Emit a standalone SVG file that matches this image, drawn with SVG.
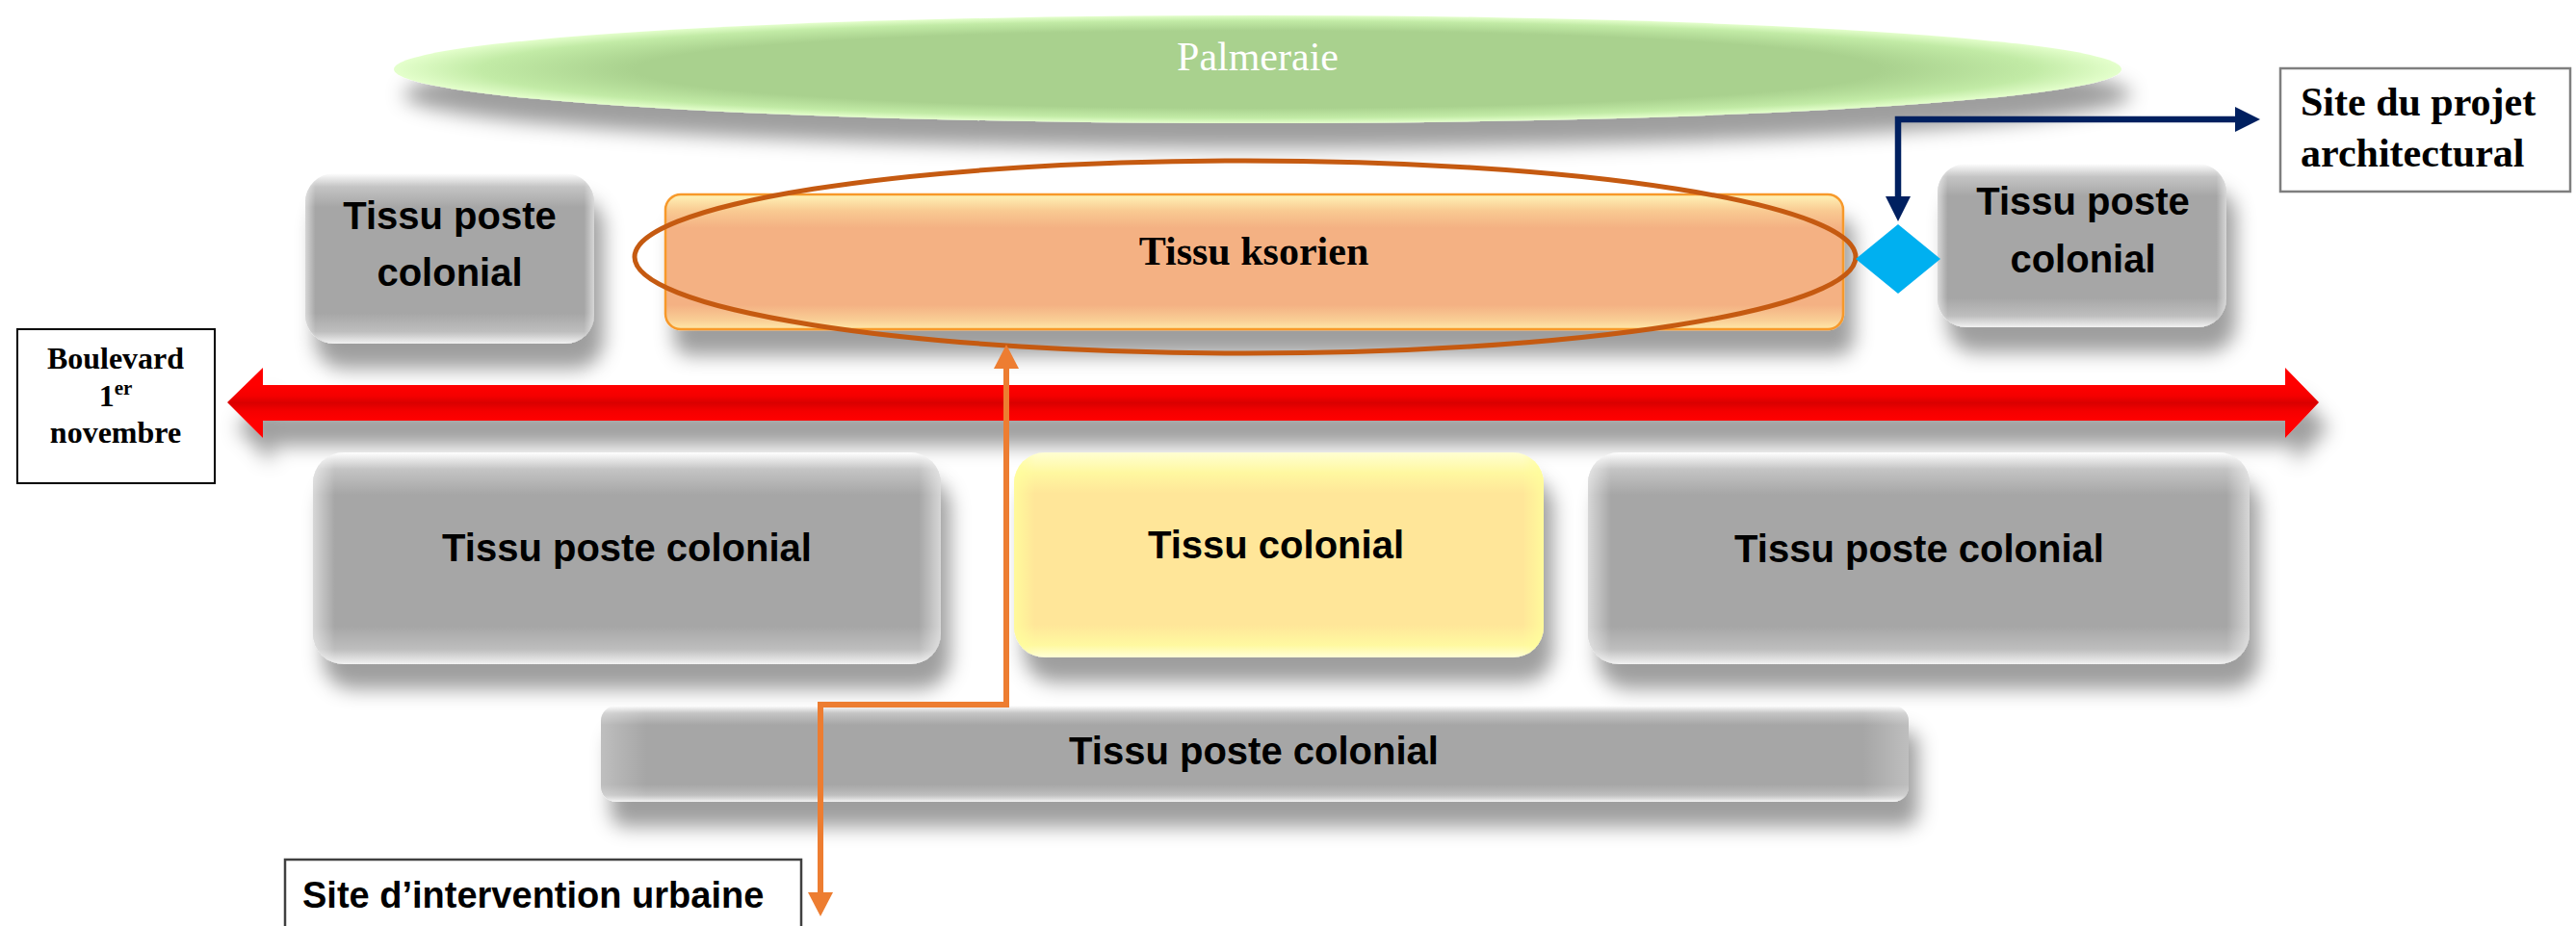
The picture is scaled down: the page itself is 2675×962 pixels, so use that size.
<svg xmlns="http://www.w3.org/2000/svg" width="2675" height="962" viewBox="0 0 2675 962">
<style>
.sans{font-family:"Liberation Sans",Arial,sans-serif;font-weight:bold;fill:#000}
.serif{font-family:"Liberation Serif","Times New Roman",serif}
.node-txt{font-size:40px;text-anchor:middle}
.box{fill:#fff}
</style>
<defs>
<filter id="shadow" x="-10%" y="-30%" width="125%" height="210%">
<feDropShadow dx="10" dy="26" stdDeviation="10" flood-color="#000" flood-opacity="0.38"/>
</filter>
<linearGradient id="grayV" x1="0" y1="0" x2="0" y2="1">
<stop offset="0" stop-color="#FFFFFF"/>
<stop offset="0.08" stop-color="#C4C4C4"/>
<stop offset="0.2" stop-color="#A6A6A6"/>
<stop offset="0.82" stop-color="#A6A6A6"/>
<stop offset="0.93" stop-color="#BEBEBE"/>
<stop offset="1" stop-color="#F2F2F2"/>
</linearGradient>
<linearGradient id="edgeH" x1="0" y1="0" x2="1" y2="0">
<stop offset="0" stop-color="#fff" stop-opacity="0.55"/>
<stop offset="0.035" stop-color="#fff" stop-opacity="0"/>
<stop offset="0.965" stop-color="#fff" stop-opacity="0"/>
<stop offset="1" stop-color="#fff" stop-opacity="0.55"/>
</linearGradient>
<linearGradient id="orangeV" x1="0" y1="0" x2="0" y2="1">
<stop offset="0" stop-color="#FFF4B8"/>
<stop offset="0.12" stop-color="#F9CA92"/>
<stop offset="0.25" stop-color="#F4B183"/>
<stop offset="0.82" stop-color="#F4B183"/>
<stop offset="0.93" stop-color="#F9CD95"/>
<stop offset="1" stop-color="#FFE9A8"/>
</linearGradient>
<linearGradient id="yellowV" x1="0" y1="0" x2="0" y2="1">
<stop offset="0" stop-color="#FFFFD2"/>
<stop offset="0.1" stop-color="#FFF8A0"/>
<stop offset="0.2" stop-color="#FFE699"/>
<stop offset="0.84" stop-color="#FFE699"/>
<stop offset="0.94" stop-color="#FFF9A0"/>
<stop offset="1" stop-color="#FFFFD6"/>
</linearGradient>
<linearGradient id="yellowH" x1="0" y1="0" x2="1" y2="0">
<stop offset="0" stop-color="#FFFF9C" stop-opacity="0.8"/>
<stop offset="0.04" stop-color="#FFFF9C" stop-opacity="0"/>
<stop offset="0.96" stop-color="#FFFF9C" stop-opacity="0"/>
<stop offset="1" stop-color="#FFFF9C" stop-opacity="0.8"/>
</linearGradient>
<radialGradient id="greenR" cx="0.5" cy="0.5" r="0.5">
<stop offset="0" stop-color="#A9D18E"/>
<stop offset="0.72" stop-color="#A9D18E"/>
<stop offset="0.9" stop-color="#C2EBA6"/>
<stop offset="1" stop-color="#E4FFCC"/>
</radialGradient>
<linearGradient id="redV" gradientUnits="userSpaceOnUse" x1="0" y1="382" x2="0" y2="455">
<stop offset="0.25" stop-color="#FF0000"/>
<stop offset="0.4" stop-color="#F50000"/>
<stop offset="0.5" stop-color="#D90000"/>
<stop offset="0.62" stop-color="#F50000"/>
<stop offset="0.75" stop-color="#FF0000"/>
</linearGradient>
<marker id="navyHead" markerUnits="userSpaceOnUse" markerWidth="26" markerHeight="26" viewBox="0 0 24 24" refX="0" refY="12" orient="auto-start-reverse">
<path d="M0,0 L24,12 L0,24 z" fill="#002060"/>
</marker>
<marker id="orangeHead" markerUnits="userSpaceOnUse" markerWidth="26" markerHeight="26" viewBox="0 0 24 24" refX="0" refY="12" orient="auto-start-reverse">
<path d="M0,0 L23,12 L0,24 z" fill="#ED7D31"/>
</marker>
</defs>

<rect width="2675" height="962" fill="#fff"/>

<g id="palmeraie">
<ellipse cx="1306" cy="72" rx="897" ry="56" fill="url(#greenR)" filter="url(#shadow)"/>
<text class="serif" x="1306" y="73" font-size="42" text-anchor="middle" fill="#fff">Palmeraie</text>
</g>

<g id="tissu-poste-colonial-nw">
<rect x="317" y="180" width="300" height="177" rx="30" fill="url(#grayV)" filter="url(#shadow)"/>
<rect x="317" y="180" width="300" height="177" rx="30" fill="url(#edgeH)"/>
<text class="sans node-txt" x="467" y="238">Tissu poste</text>
<text class="sans node-txt" x="467" y="297">colonial</text>
</g>

<g id="tissu-ksorien">
<rect x="691" y="202" width="1223" height="140" rx="16" fill="url(#orangeV)" stroke="#F7992C" stroke-width="2.5" filter="url(#shadow)"/>
<text class="serif" x="1302" y="275" font-size="42" font-weight="bold" text-anchor="middle">Tissu ksorien</text>
</g>

<g id="tissu-poste-colonial-ne">
<rect x="2012" y="170" width="300" height="170" rx="30" fill="url(#grayV)" filter="url(#shadow)"/>
<rect x="2012" y="170" width="300" height="170" rx="30" fill="url(#edgeH)"/>
<text class="sans node-txt" x="2163" y="223">Tissu poste</text>
<text class="sans node-txt" x="2163" y="283">colonial</text>
</g>

<g id="site-projet">
<rect class="box" x="2368" y="71" width="301" height="128" stroke="#7F7F7F" stroke-width="2.5"/>
<text class="serif" x="2389" y="120" font-size="42" font-weight="bold">Site du projet</text>
<text class="serif" x="2389" y="173" font-size="42" font-weight="bold">architectural</text>
</g>

<g id="boulevard-arrow">
<polygon points="236,418 273,382 273,400 2373,400 2373,382 2408,418 2373,455 2373,437 273,437 273,455" fill="url(#redV)" filter="url(#shadow)"/>
</g>

<g id="boulevard-label">
<rect class="box" x="18" y="342" width="205" height="160" stroke="#000" stroke-width="2"/>
<text class="serif" x="120" y="383" font-size="32" font-weight="bold" text-anchor="middle">Boulevard</text>
<text class="serif" x="120" y="422" font-size="32" font-weight="bold" text-anchor="middle">1<tspan font-size="21" dy="-12">er</tspan></text>
<text class="serif" x="120" y="460" font-size="32" font-weight="bold" text-anchor="middle">novembre</text>
</g>

<g id="tissu-poste-colonial-sw">
<rect x="325" y="470" width="652" height="220" rx="32" fill="url(#grayV)" filter="url(#shadow)"/>
<rect x="325" y="470" width="652" height="220" rx="32" fill="url(#edgeH)"/>
<text class="sans node-txt" x="651" y="583">Tissu poste colonial</text>
</g>

<g id="tissu-colonial">
<rect x="1053" y="470" width="550" height="213" rx="32" fill="url(#yellowV)" filter="url(#shadow)"/>
<rect x="1053" y="470" width="550" height="213" rx="32" fill="url(#yellowH)"/>
<text class="sans node-txt" x="1325" y="580">Tissu colonial</text>
</g>

<g id="tissu-poste-colonial-se">
<rect x="1649" y="470" width="687" height="220" rx="32" fill="url(#grayV)" filter="url(#shadow)"/>
<rect x="1649" y="470" width="687" height="220" rx="32" fill="url(#edgeH)"/>
<text class="sans node-txt" x="1993" y="584">Tissu poste colonial</text>
</g>

<g id="tissu-poste-colonial-s">
<rect x="624" y="733" width="1358" height="100" rx="16" fill="url(#grayV)" filter="url(#shadow)"/>
<rect x="624" y="733" width="1358" height="100" rx="16" fill="url(#edgeH)" opacity="0.5"/>
<text class="sans node-txt" x="1302" y="794">Tissu poste colonial</text>
</g>

<g id="site-intervention">
<rect class="box" x="296" y="893" width="536" height="90" stroke="#404040" stroke-width="2.5"/>
<text class="sans" x="314" y="943" font-size="38">Site d’intervention urbaine</text>
</g>

<g id="ksour-outline">
<ellipse cx="1293" cy="267" rx="634" ry="100" fill="none" stroke="#C55A11" stroke-width="5"/>
</g>

<g id="diamond">
<polygon points="1927,269 1971,233 2015,269 1971,305" fill="#00B0F0"/>
</g>

<g id="connectors">
<path d="M1971,204 V124 H2321" fill="none" stroke="#002060" stroke-width="6.5" stroke-linejoin="miter" marker-start="url(#navyHead)" marker-end="url(#navyHead)"/>
<path d="M1045,383 V732 H852 V927" fill="none" stroke="#ED7D31" stroke-width="6" stroke-linejoin="miter" marker-start="url(#orangeHead)" marker-end="url(#orangeHead)"/>
</g>
</svg>
